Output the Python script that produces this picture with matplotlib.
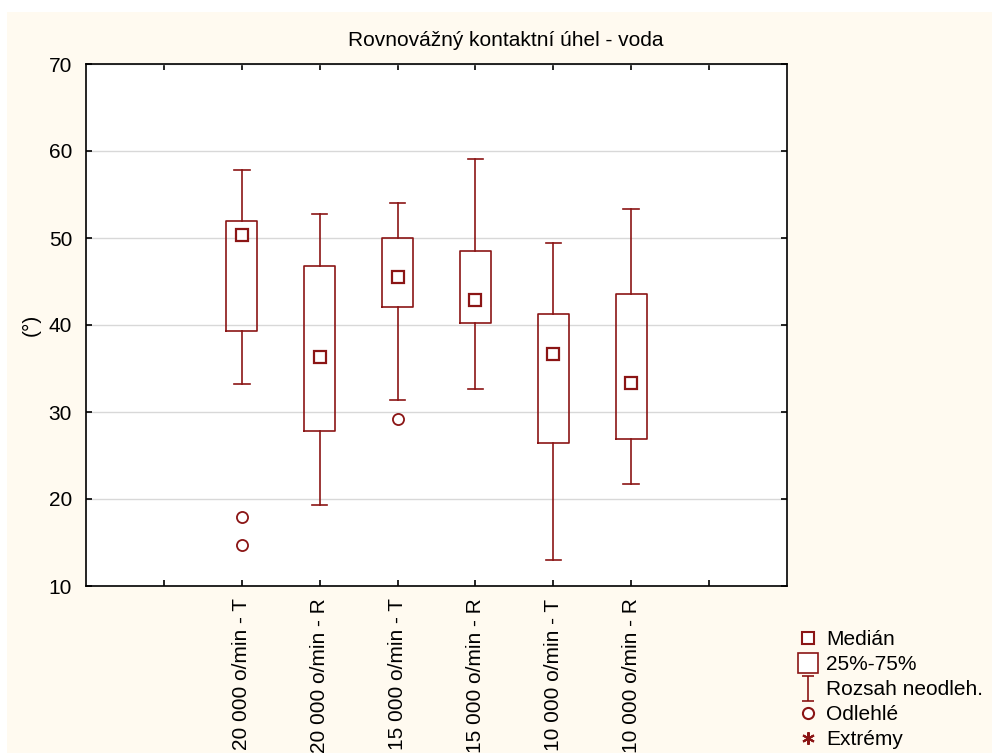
import matplotlib.pyplot as plt
from matplotlib.lines import Line2D
from matplotlib.patches import Rectangle
from matplotlib.path import Path

plt.rcParams['font.family'] = ['Liberation Sans', 'DejaVu Sans']

# data
labels = ['20 000 o/min - T', '20 000 o/min - R', '15 000 o/min - T',
          '15 000 o/min - R', '10 000 o/min - T', '10 000 o/min - R']
medians = [50.3, 36.3, 45.5, 42.9, 36.7, 33.3]
q1 = [39.3, 27.8, 42.1, 40.2, 26.4, 26.9]
q3 = [52.0, 46.8, 50.0, 48.5, 41.3, 43.6]
whis_lo = [33.2, 19.3, 31.4, 32.6, 13.0, 21.7]
whis_hi = [57.8, 52.8, 54.0, 59.1, 49.4, 53.3]
outliers = [[17.9, 14.7], [], [29.2], [], [], []]

col = '#8b1515'
bg = '#fffaf0'

fig = plt.figure(figsize=(9.92, 7.53), dpi=100)
fig.patch.set_facecolor('white')
fig.add_artist(Rectangle((7 / 992, 0), 1, 741 / 753, transform=fig.transFigure,
                         facecolor=bg, edgecolor='none', zorder=-10))

ax = fig.add_axes([86 / 992, 167 / 753, 701 / 992, 522 / 753])
ax.set_facecolor('white')

stats = []
for i in range(len(labels)):
    stats.append(dict(med=medians[i], q1=q1[i], q3=q3[i],
                      whislo=whis_lo[i], whishi=whis_hi[i], fliers=outliers[i]))
pos = list(range(2, 2 + len(labels)))
ax.bxp(stats, positions=pos, widths=0.4, capwidths=0.2, manage_ticks=False,
       boxprops=dict(color=col, linewidth=1.2),
       whiskerprops=dict(color=col, linewidth=1.2),
       capprops=dict(color=col, linewidth=1.2),
       medianprops=dict(visible=False),
       flierprops=dict(marker='o', markerfacecolor='white', markeredgecolor=col,
                       markersize=8, markeredgewidth=1.3))
ax.plot(pos, medians, 's', color=col, markerfacecolor='white', markersize=8,
        markeredgewidth=1.6, linestyle='none', zorder=5)

ax.set_xlim(0, 9)
ax.set_ylim(10, 70)
ax.set_xticks(range(1, 9))
ax.set_xticklabels([''] + labels + [''], rotation=90, fontsize=15)
ax.set_yticks(range(10, 71, 10))
ax.tick_params(axis='y', labelsize=15, pad=10)
ax.tick_params(axis='x', pad=9)
ax.tick_params(direction='in', length=4, top=True, right=True, width=1.2)
ax.yaxis.grid(True, color='#d8d8d8', linewidth=1)
ax.set_axisbelow(True)
for s in ax.spines.values():
    s.set_linewidth(1.2)
ax.set_ylabel('(°)', fontsize=15, labelpad=6)
fig.text(506 / 992, 1 - 40 / 753, 'Rovnovážný kontaktní úhel - voda', fontsize=15,
         ha='center', va='center')

# legend
ibeam = Path([(-0.5, 1), (0.5, 1), (0, 1), (0, -1), (-0.5, -1), (0.5, -1)],
             [Path.MOVETO, Path.LINETO, Path.MOVETO, Path.LINETO, Path.MOVETO, Path.LINETO])
handles = [
    Line2D([], [], marker='s', color=col, mfc='white', ms=8, mew=1.5, ls='none'),
    Line2D([], [], marker='s', color=col, mfc='white', ms=15, mew=1.2, ls='none'),
    Line2D([], [], marker=ibeam, color=col, ms=18, mew=1.2, ls='none'),
    Line2D([], [], marker='o', color=col, mfc='white', ms=8, mew=1.5, ls='none'),
    Line2D([], [], marker=(6, 2, 0), color=col, ms=9, mew=1.5, ls='none'),
]
leg_labels = ['Medián', '25%-75%', 'Rozsah neodleh.', 'Odlehlé', 'Extrémy']
fig.legend(handles, leg_labels, loc='upper left', bbox_to_anchor=(800 / 992, 1 - 630 / 753),
           frameon=False, fontsize=15, handlelength=0.8, handletextpad=0.45,
           labelspacing=0.29, borderaxespad=0, borderpad=0)

fig.savefig('out.png', dpi=100)
